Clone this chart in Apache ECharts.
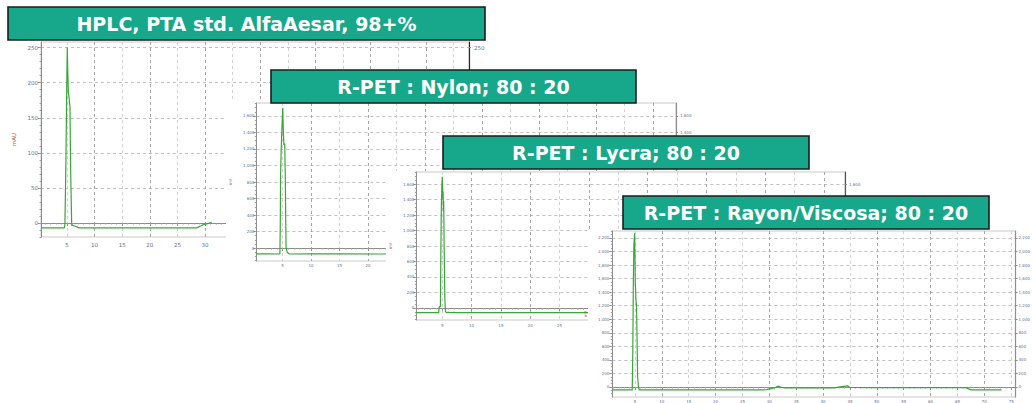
<!DOCTYPE html>
<html><head><meta charset="utf-8">
<script src="https://cdn.jsdelivr.net/npm/echarts@6/dist/echarts.min.js"></script>
<style>
html,body{margin:0;padding:0;background:#fff;width:1033px;height:403px;overflow:hidden;position:relative}
.p{position:absolute}
</style></head><body>
<div id="c1" class="p" style="left:0;top:0;width:500px;height:258px;z-index:1"></div>
<div id="c2" class="p" style="left:220px;top:64px;width:480px;height:208px;z-index:2"></div>
<div id="c3" class="p" style="left:380px;top:130px;width:485px;height:203px;z-index:3"></div>
<div id="c4" class="p" style="left:575px;top:190px;width:458px;height:213px;z-index:4"></div>
<script>
// ---- titles ----
const titles = ['HPLC, PTA std. AlfaAesar, 98+%', 'R-PET : Nylon; 80 : 20', 'R-PET : Lycra; 80 : 20', 'R-PET : Rayon/Viscosa; 80 : 20'];
const yNames = ['mAU', 'mV', 'mV', 'mV'];
// ---- tick labels ----
const timeTicks = [5,10,15,20,25,30,35,40,45,50,55,60,65,70,75];
const ptaTicksY = [0,50,100,150,200,250];
const blendTicksY = [0,200,400,600,800,1000,1200,1400,1600];
const rayonTicksY = [0,200,400,600,800,1000,1200,1400,1600,1800,2000,2200];
// ---- series values [time (min), signal] ----
const ptaStd = [[0.3,-7],[2,-7],[4.5,-7],[4.62,-2],[4.76,66],[4.88,140],[4.96,200],[5.05,250],[5.14,215],[5.24,186],[5.32,182],[5.42,175],[5.54,165],[5.65,80],[5.85,-3],[6.2,-4],[6.6,-5],[7.2,-7],[12,-7],[18,-7],[24,-7],[28.5,-7],[29.3,-4],[29.8,-2],[30.5,-1],[31.2,1]];
const nylon = [[0.42,-70],[2,-70],[4.4,-72],[4.55,-70],[4.62,300],[4.66,860],[4.78,1200],[4.9,1450],[5.05,1700],[5.12,1500],[5.18,1350],[5.26,1250],[5.4,1265],[5.45,1000],[5.5,845],[5.56,400],[5.63,10],[5.85,-55],[6.2,-72],[10,-70],[16,-71],[22,-72],[30,-70],[40,-71],[50,-72],[60,-70],[74,-71]];
const lycra = [[0.6,-60],[2,-60],[4.4,-60],[4.49,-55],[4.5,17],[4.7,17],[4.76,600],[4.85,1290],[4.95,1600],[5.02,1694],[5.08,1560],[5.12,1400],[5.16,1500],[5.2,1250],[5.25,1380],[5.29,1150],[5.35,700],[5.4,425],[5.45,120],[5.55,-48],[5.8,-60],[6.0,-55],[6.1,-60],[6.8,-60],[7.0,-56],[7.2,-60],[15,-60],[25,-60],[40,-60],[55,-60],[73.6,-60]];
const rayon = [[0.8,-44],[2,-44],[4.5,-44],[4.6,500],[4.7,1500],[4.8,2100],[4.95,2270],[5.0,2000],[5.06,1530],[5.12,1450],[5.18,1300],[5.25,1230],[5.3,1186],[5.4,700],[5.5,152],[5.65,0],[5.82,-44],[10,-44],[18,-44],[28.5,-44],[29.5,-40],[30.5,-20],[31.2,-5],[31.6,12],[32.2,-5],[33,-14],[38,-12],[42,-12],[43.5,5],[44.6,15],[45,-8],[49,-10],[55,-10],[61,-10],[66.5,-10],[67.5,-42],[70,-44],[73.2,-44]];

const LINE = '#39a639';
const LABEL = '#5f7193';

function fmt(v){ return Math.abs(v) >= 1000 ? String(v).replace(/\B(?=(\d{3})+(?!\d))/g, ',') : String(v); }
function minorOf(ticks, parts, min, max){
  const step = (ticks[1]-ticks[0])/parts;
  const start = ticks[0] - Math.floor((ticks[0]-min)/step)*step;
  const out = [];
  for (let v = start; v <= max + 1e-9; v += step) out.push(Math.round(v*1000)/1000);
  return out;
}

function makePanel(c){
  const el = document.getElementById(c.id);
  const ox = c.off[0], oy = c.off[1];
  const chart = echarts.init(el, null, {renderer:'svg'});
  const g = c.grid;
  const xMinor = minorOf(c.xTicks, 5, c.xMin, c.xMax);
  const yMinor = minorOf(c.yTicks, c.yParts, c.yMin, c.yMax);
  const xLabels = c.xTicks.filter(v => v <= c.xLabelMax);
  const rLabels = c.yTicks.filter(v => v >= c.rLabelMin);
  const lab = {fontSize:c.fs, color:LABEL, fontFamily:'DejaVu Sans'};
  chart.setOption({
    animation:false,
    grid:{left:g[0]-ox, top:g[1]-oy, width:g[2], height:g[3], show:true, backgroundColor:'#fff', borderColor:'#c9c9c9', borderWidth:1},
    graphic:[
      {type:'rect', z:-10, silent:true, shape:{x:c.bg[0]-ox, y:c.bg[1]-oy, width:c.bg[2], height:c.bg[3]}, style:{fill:'#fff'}},
      {type:'rect', z:100, shape:{x:c.tb[0]-ox, y:c.tb[1]-oy, width:c.tb[2], height:c.tb[3]}, style:{fill:'#17a88b', stroke:'#1c1c1c', lineWidth:1.6}},
      {type:'text', z:101, x:c.tb[0]-ox+c.tb[2]/2, y:c.tb[1]-oy+c.tb[3]/2+0.5, style:{text:c.title, fill:'#ffffff', font:'bold 19px "DejaVu Sans"', align:'center', verticalAlign:'middle'}}
    ],
    xAxis:[
      {type:'value', min:c.xMin, max:c.xMax, position:'bottom',
       axisLine:{show:true, lineStyle:{color:'#8c8c8c', width:1}},
       axisTick:{show:true, customValues:c.xTicks, length:3, lineStyle:{color:'#8c8c8c'}},
       axisLabel:{show:true, customValues:xLabels, margin:c.xm, ...lab},
       splitLine:{show:true, lineStyle:{color:['#d2d2d2','#a8a8a8'], type:[3,3], width:1}}},
      {type:'value', min:c.xMin, max:c.xMax, position:'bottom',
       axisLine:{show:false}, axisTick:{show:true, customValues:xMinor, length:1.5, lineStyle:{color:'#a0a0a0'}},
       axisLabel:{show:false}, splitLine:{show:false}}
    ],
    yAxis:[
      {type:'value', min:c.yMin, max:c.yMax, position:'left',
       name:c.yName, nameLocation:'middle', nameGap:c.ng, nameRotate:90, nameTextStyle:{fontSize:c.fs, color:'#a8604e', fontFamily:'DejaVu Sans'},
       axisLine:{show:true, lineStyle:{color:'#8c8c8c', width:1}},
       axisTick:{show:true, customValues:c.yTicks, length:3, lineStyle:{color:'#8c8c8c'}},
       axisLabel:{show:true, customValues:c.yTicks, formatter:fmt, margin:c.ym, ...lab},
       splitLine:{show:true, lineStyle:{color:'#c0c0c0', type:[3,3], width:1}}},
      {type:'value', min:c.yMin, max:c.yMax, position:'right',
       axisLine:{show:true, lineStyle:{color:c.rightColor, width:1.2}},
       axisTick:{show:true, customValues:c.yTicks, length:2, lineStyle:{color:'#8c8c8c'}},
       axisLabel:{show:true, customValues:rLabels, formatter:fmt, margin:c.rm, ...lab},
       splitLine:{show:false}},
      {type:'value', min:c.yMin, max:c.yMax, position:'left',
       axisLine:{show:false}, axisTick:{show:true, customValues:yMinor, length:1.5, lineStyle:{color:'#a0a0a0'}},
       axisLabel:{show:false}, splitLine:{show:false}}
    ],
    series:[{type:'line', xAxisIndex:0, yAxisIndex:0, data:c.data, showSymbol:false, symbol:'none', smooth:false,
      lineStyle:{color:LINE, width:1.2}, z:5}]
  });
}

makePanel({id:'c1', off:[0,0], grid:[41,42,428,195], bg:[0,40,500,218], tb:[8,7,477,33],
  title:titles[0], yName:yNames[0], ng:13, fs:5.5, xm:5, ym:3, rm:5, rightColor:'#2a2a2a',
  xMin:0.29, xMax:77.8, yMin:-20, yMax:258, xTicks:timeTicks, xLabelMax:30, rLabelMin:250, yTicks:ptaTicksY, yParts:5, data:ptaStd});
makePanel({id:'c2', off:[220,64], grid:[242,103,434,158], bg:[226,102,466,168], tb:[271,70,365,33],
  title:titles[1], yName:yNames[1], ng:12, fs:4, xm:2, ym:2, rm:4, rightColor:'#8f8f8f',
  xMin:0.42, xMax:74, yMin:-157, yMax:1757, xTicks:timeTicks, xLabelMax:20, rLabelMin:1400, yTicks:blendTicksY, yParts:4, data:nylon});
makePanel({id:'c3', off:[380,130], grid:[413,172,432,148], bg:[386,171,478,162], tb:[443,136,366,33],
  title:titles[2], yName:yNames[2], ng:14, fs:4, xm:3, ym:2, rm:4, rightColor:'#555555',
  xMin:0.6, xMax:73.6, yMin:-155, yMax:1755, xTicks:timeTicks, xLabelMax:25, rLabelMin:1600, yTicks:blendTicksY, yParts:4, data:lycra});
makePanel({id:'c4', off:[575,190], grid:[598,231,429,166], bg:[588,230,445,173], tb:[623,196,366,33],
  title:titles[3], yName:yNames[3], ng:14, fs:4, xm:2, ym:3, rm:3, rightColor:'#8f8f8f',
  xMin:0.8, xMax:75.8, yMin:-148, yMax:2303, xTicks:timeTicks, xLabelMax:75, rLabelMin:0, yTicks:rayonTicksY, yParts:4, data:rayon});
</script>
</body></html>
